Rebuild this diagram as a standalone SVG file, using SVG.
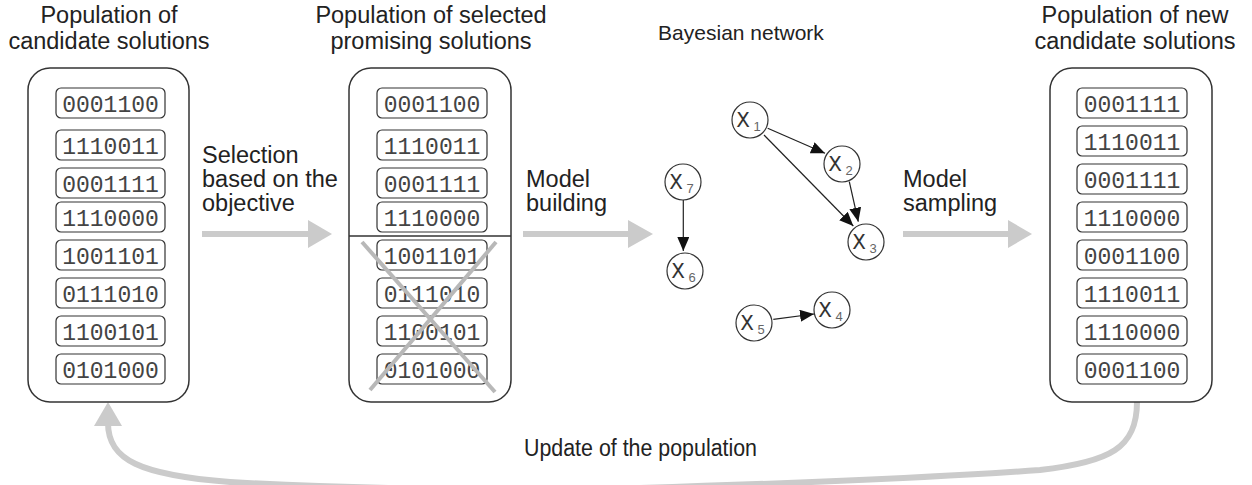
<svg xmlns="http://www.w3.org/2000/svg" width="1252" height="485" viewBox="0 0 1252 485">
<style>
.lbl{font-family:"Liberation Sans",Arial,sans-serif;font-size:23.5px;fill:#222}
.mid{text-anchor:middle}
.panel{fill:#fff;stroke:#333;stroke-width:1.5}
.box{fill:#fff;stroke:#333;stroke-width:1.2}
.bits{font-family:"Liberation Mono","Courier New",monospace;font-size:23px;fill:#444;text-anchor:middle}
.node{fill:#fff;stroke:#333;stroke-width:1.2}
.nx{font-family:"Liberation Mono","Courier New",monospace;font-size:22px;fill:#333;text-anchor:middle}
.ns{font-family:"Liberation Sans",Arial,sans-serif;font-size:13px;fill:#666;text-anchor:middle}
.edge{stroke:#222;stroke-width:1.2;fill:none;marker-end:url(#ah)}
.big{stroke:#cbcbcb;stroke-width:6;fill:none}
.bighead{fill:#cbcbcb}
.cross{stroke:#b8b8b8;stroke-width:4;fill:none}
</style>
<defs>
<marker id="ah" markerUnits="userSpaceOnUse" markerWidth="14" markerHeight="12" refX="14" refY="6" orient="auto">
<path d="M0,0 L14,6 L0,12 z" fill="#111"/>
</marker>
</defs>

<!-- titles -->
<text class="lbl mid" x="109" y="23">Population of</text>
<text class="lbl mid" x="109" y="49">candidate solutions</text>
<text class="lbl mid" x="431" y="23">Population of selected</text>
<text class="lbl mid" x="431" y="49">promising solutions</text>
<text class="lbl mid" x="741" y="40" style="font-size:21px">Bayesian network</text>
<text class="lbl mid" x="1135" y="23">Population of new</text>
<text class="lbl mid" x="1135" y="49">candidate solutions</text>

<!-- connectors -->
<g id="connectors">
<line class="big" x1="202" y1="234" x2="310" y2="234"/>
<path class="bighead" d="M308,220 L332,234 L308,248 z"/>
<line class="big" x1="523" y1="234" x2="630" y2="234"/>
<path class="bighead" d="M628,220 L653,234 L628,248 z"/>
<line class="big" x1="903" y1="234" x2="1010" y2="234"/>
<path class="bighead" d="M1008,220 L1032,234 L1008,248 z"/>
<path class="big" d="M1137,402 C1137,448 1110,462 1040,470 Q900,480 640,488 Q400,492 230,482 C140,475 108,460 108,423"/>
<path class="bighead" d="M94,426 L108,402 L122,426 z"/>
<line class="edge" x1="767.7" y1="128.3" x2="825" y2="153.3"/>
<line class="edge" x1="764" y1="135" x2="853.3" y2="226"/>
<line class="edge" x1="849.3" y1="181.7" x2="858.3" y2="221.7"/>
<line class="edge" x1="683.3" y1="197" x2="683.3" y2="251"/>
<line class="edge" x1="773.3" y1="319.3" x2="814" y2="314"/>
</g>

<text class="lbl" x="202" y="163">Selection</text>
<text class="lbl" x="202" y="187">based on the</text>
<text class="lbl" x="202" y="211">objective</text>
<text class="lbl" x="526" y="187">Model</text>
<text class="lbl" x="526" y="211">building</text>
<text class="lbl" x="903" y="187">Model</text>
<text class="lbl" x="903" y="211">sampling</text>
<text class="lbl" x="524" y="456" textLength="233" lengthAdjust="spacingAndGlyphs">Update of the population</text>

<!-- panel 1 -->
<g id="pop1">
<rect class="panel" x="28" y="68" width="161" height="334" rx="22"/>
<rect class="box" x="56" y="88" width="109" height="30" rx="5"/><text class="bits" x="110.5" y="112">0001100</text>
<rect class="box" x="56" y="130" width="109" height="30" rx="5"/><text class="bits" x="110.5" y="154">1110011</text>
<rect class="box" x="56" y="168" width="109" height="30" rx="5"/><text class="bits" x="110.5" y="192">0001111</text>
<rect class="box" x="56" y="202" width="109" height="30" rx="5"/><text class="bits" x="110.5" y="226">1110000</text>
<rect class="box" x="56" y="240" width="109" height="30" rx="5"/><text class="bits" x="110.5" y="264">1001101</text>
<rect class="box" x="56" y="278" width="109" height="30" rx="5"/><text class="bits" x="110.5" y="302">0111010</text>
<rect class="box" x="56" y="316" width="109" height="30" rx="5"/><text class="bits" x="110.5" y="340">1100101</text>
<rect class="box" x="56" y="354" width="109" height="30" rx="5"/><text class="bits" x="110.5" y="378">0101000</text>
</g>

<!-- panel 2 -->
<g id="pop2">
<rect class="panel" x="349" y="68" width="162" height="334" rx="22"/>
<rect class="box" x="377" y="88" width="110" height="30" rx="5"/><text class="bits" x="432" y="112">0001100</text>
<rect class="box" x="377" y="130" width="110" height="30" rx="5"/><text class="bits" x="432" y="154">1110011</text>
<rect class="box" x="377" y="168" width="110" height="30" rx="5"/><text class="bits" x="432" y="192">0001111</text>
<rect class="box" x="377" y="202" width="110" height="30" rx="5"/><text class="bits" x="432" y="226">1110000</text>
<line x1="349" y1="236" x2="511" y2="236" stroke="#333" stroke-width="1.5"/>
<rect class="box" x="377" y="240" width="110" height="30" rx="5"/><text class="bits" x="432" y="264">1001101</text>
<rect class="box" x="377" y="278" width="110" height="30" rx="5"/><text class="bits" x="432" y="302">0111010</text>
<rect class="box" x="377" y="316" width="110" height="30" rx="5"/><text class="bits" x="432" y="340">1100101</text>
<rect class="box" x="377" y="354" width="110" height="30" rx="5"/><text class="bits" x="432" y="378">0101000</text>
<line class="cross" x1="362" y1="242" x2="495" y2="392"/>
<line class="cross" x1="496" y1="242" x2="370" y2="390"/>
</g>

<!-- Bayesian network nodes -->
<g id="x1"><circle class="node" cx="750" cy="120" r="18"/><text class="nx" x="743" y="127">X</text><text class="ns" x="757" y="131">1</text></g>
<g id="x2"><circle class="node" cx="842" cy="164" r="18"/><text class="nx" x="835" y="171">X</text><text class="ns" x="849" y="175">2</text></g>
<g id="x3"><circle class="node" cx="866" cy="242" r="18"/><text class="nx" x="859" y="249">X</text><text class="ns" x="873" y="253">3</text></g>
<g id="x4"><circle class="node" cx="832" cy="310" r="18"/><text class="nx" x="825" y="317">X</text><text class="ns" x="839" y="321">4</text></g>
<g id="x5"><circle class="node" cx="754" cy="323" r="18"/><text class="nx" x="747" y="330">X</text><text class="ns" x="761" y="334">5</text></g>
<g id="x6"><circle class="node" cx="685" cy="271" r="18"/><text class="nx" x="678" y="278">X</text><text class="ns" x="692" y="282">6</text></g>
<g id="x7"><circle class="node" cx="683" cy="182" r="18"/><text class="nx" x="676" y="189">X</text><text class="ns" x="690" y="193">7</text></g>

<!-- panel 4 -->
<g id="pop4">
<rect class="panel" x="1050" y="68" width="162" height="334" rx="22"/>
<rect class="box" x="1077" y="88" width="110" height="30" rx="5"/><text class="bits" x="1132" y="112">0001111</text>
<rect class="box" x="1077" y="126" width="110" height="30" rx="5"/><text class="bits" x="1132" y="150">1110011</text>
<rect class="box" x="1077" y="164" width="110" height="30" rx="5"/><text class="bits" x="1132" y="188">0001111</text>
<rect class="box" x="1077" y="202" width="110" height="30" rx="5"/><text class="bits" x="1132" y="226">1110000</text>
<rect class="box" x="1077" y="240" width="110" height="30" rx="5"/><text class="bits" x="1132" y="264">0001100</text>
<rect class="box" x="1077" y="278" width="110" height="30" rx="5"/><text class="bits" x="1132" y="302">1110011</text>
<rect class="box" x="1077" y="316" width="110" height="30" rx="5"/><text class="bits" x="1132" y="340">1110000</text>
<rect class="box" x="1077" y="354" width="110" height="30" rx="5"/><text class="bits" x="1132" y="378">0001100</text>
</g>
</svg>
